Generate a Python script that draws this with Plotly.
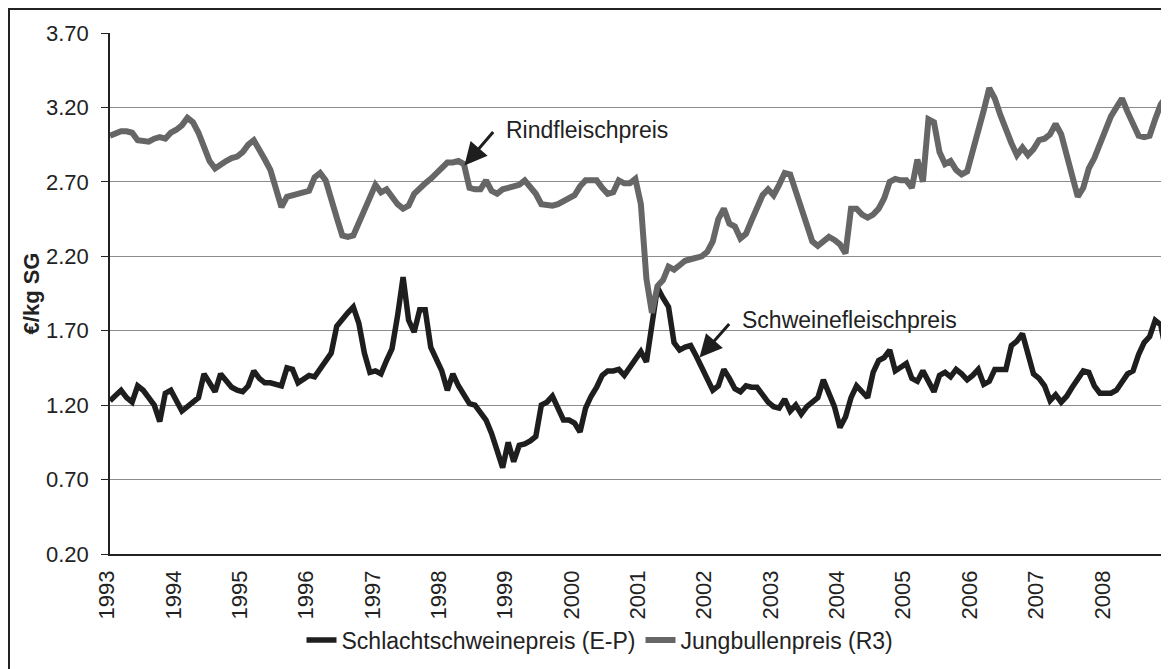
import plotly.graph_objects as go

years = list(range(1993, 2009))
year_labels = [str(y) for y in years]

# Schlachtschweinepreis (E-P), monthly, €/kg SG
pig_1993 = [1.23, 1.27, 1.30, 1.25, 1.22, 1.33, 1.30, 1.25, 1.20, 1.09, 1.28, 1.30]
pig_1994 = [1.22, 1.16, 1.19, 1.22, 1.25, 1.41, 1.35, 1.29, 1.41, 1.36, 1.32, 1.30]
pig_1995 = [1.29, 1.33, 1.43, 1.38, 1.35, 1.35, 1.34, 1.33, 1.45, 1.44, 1.35, 1.37]
pig_1996 = [1.40, 1.39, 1.44, 1.49, 1.55, 1.73, 1.78, 1.82, 1.86, 1.75, 1.55, 1.42]
pig_1997 = [1.43, 1.41, 1.50, 1.58, 1.80, 2.06, 1.77, 1.69, 1.84, 1.84, 1.59, 1.50]
pig_1998 = [1.43, 1.30, 1.41, 1.33, 1.27, 1.21, 1.20, 1.15, 1.10, 1.01, 0.88, 0.78]
pig_1999 = [0.95, 0.82, 0.93, 0.94, 0.96, 0.99, 1.20, 1.22, 1.26, 1.18, 1.10, 1.10]
pig_2000 = [1.08, 1.02, 1.18, 1.26, 1.32, 1.40, 1.43, 1.43, 1.44, 1.40, 1.45, 1.50]
pig_2001 = [1.56, 1.49, 1.75, 1.99, 1.92, 1.86, 1.62, 1.57, 1.59, 1.60, 1.53, 1.45]
pig_2002 = [1.37, 1.30, 1.33, 1.44, 1.38, 1.31, 1.29, 1.33, 1.32, 1.32, 1.27, 1.22]
pig_2003 = [1.19, 1.18, 1.24, 1.16, 1.20, 1.14, 1.19, 1.22, 1.25, 1.37, 1.28, 1.19]
pig_2004 = [1.05, 1.12, 1.25, 1.33, 1.29, 1.25, 1.42, 1.50, 1.52, 1.57, 1.43, 1.45]
pig_2005 = [1.48, 1.38, 1.36, 1.43, 1.36, 1.29, 1.40, 1.42, 1.39, 1.44, 1.41, 1.37]
pig_2006 = [1.40, 1.44, 1.34, 1.36, 1.44, 1.44, 1.44, 1.60, 1.63, 1.68, 1.54, 1.41]
pig_2007 = [1.38, 1.33, 1.23, 1.27, 1.22, 1.26, 1.32, 1.38, 1.43, 1.42, 1.33, 1.28]
pig_2008 = [1.28, 1.28, 1.30, 1.35, 1.41, 1.43, 1.54, 1.62, 1.66, 1.77, 1.74, 1.55]
pig_2009 = [1.35]

# Jungbullenpreis (R3), monthly, €/kg SG
cattle_1993 = [3.01, 3.03, 3.04, 3.04, 3.03, 2.98, 2.98, 2.97, 2.99, 3.00, 2.99, 3.03]
cattle_1994 = [3.05, 3.08, 3.13, 3.10, 3.03, 2.93, 2.84, 2.79, 2.82, 2.84, 2.86, 2.87]
cattle_1995 = [2.90, 2.95, 2.98, 2.92, 2.85, 2.78, 2.65, 2.53, 2.60, 2.61, 2.62, 2.63]
cattle_1996 = [2.64, 2.73, 2.76, 2.71, 2.57, 2.46, 2.34, 2.33, 2.34, 2.42, 2.52, 2.60]
cattle_1997 = [2.68, 2.63, 2.65, 2.60, 2.55, 2.52, 2.54, 2.62, 2.66, 2.69, 2.72, 2.76]
cattle_1998 = [2.79, 2.83, 2.83, 2.84, 2.82, 2.66, 2.65, 2.65, 2.71, 2.64, 2.62, 2.65]
cattle_1999 = [2.66, 2.67, 2.68, 2.71, 2.67, 2.62, 2.55, 2.54, 2.54, 2.55, 2.57, 2.59]
cattle_2000 = [2.61, 2.67, 2.71, 2.71, 2.71, 2.66, 2.62, 2.63, 2.71, 2.69, 2.69, 2.72]
cattle_2001 = [2.55, 2.05, 1.82, 2.00, 2.04, 2.13, 2.11, 2.14, 2.17, 2.18, 2.19, 2.20]
cattle_2002 = [2.23, 2.30, 2.45, 2.52, 2.42, 2.40, 2.32, 2.35, 2.44, 2.52, 2.61, 2.65]
cattle_2003 = [2.61, 2.68, 2.76, 2.75, 2.64, 2.51, 2.40, 2.30, 2.27, 2.30, 2.33, 2.31]
cattle_2004 = [2.28, 2.22, 2.52, 2.52, 2.48, 2.46, 2.48, 2.52, 2.59, 2.70, 2.72, 2.71]
cattle_2005 = [2.71, 2.66, 2.85, 2.70, 3.12, 3.10, 2.90, 2.82, 2.84, 2.78, 2.75, 2.77]
cattle_2006 = [2.90, 3.02, 3.18, 3.33, 3.26, 3.15, 3.05, 2.96, 2.88, 2.93, 2.88, 2.92]
cattle_2007 = [2.98, 2.99, 3.02, 3.09, 3.02, 2.88, 2.72, 2.60, 2.66, 2.79, 2.86, 2.95]
cattle_2008 = [3.06, 3.14, 3.20, 3.26, 3.17, 3.10, 3.01, 3.00, 3.01, 3.12, 3.22, 3.27]
cattle_2009 = [3.25]

y_ticks = [0.20, 0.70, 1.20, 1.70, 2.20, 2.70, 3.20, 3.70]

pig = (pig_1993 + pig_1994 + pig_1995 + pig_1996 + pig_1997 + pig_1998 + pig_1999 +
       pig_2000 + pig_2001 + pig_2002 + pig_2003 + pig_2004 + pig_2005 + pig_2006 +
       pig_2007 + pig_2008 + pig_2009)
cattle = (cattle_1993 + cattle_1994 + cattle_1995 + cattle_1996 + cattle_1997 +
          cattle_1998 + cattle_1999 + cattle_2000 + cattle_2001 + cattle_2002 +
          cattle_2003 + cattle_2004 + cattle_2005 + cattle_2006 + cattle_2007 +
          cattle_2008 + cattle_2009)
months = list(range(len(pig)))

FONT = "Liberation Sans, Arial, sans-serif"

W, H = 1161, 661
ML, MT, MB = 102, 25, 115
PW, PH = W - ML, H - MT - MB

fig = go.Figure()
fig.add_trace(go.Scatter(x=months, y=pig, mode="lines", name="Schlachtschweinepreis (E-P)",
                         line=dict(color="#1e1e1e", width=5.5)))
fig.add_trace(go.Scatter(x=months, y=cattle, mode="lines", name="Jungbullenpreis (R3)",
                         line=dict(color="#666666", width=6)))

fig.update_layout(
    width=W, height=H,
    margin=dict(l=ML, r=0, t=MT, b=MB, autoexpand=False),
    paper_bgcolor="white", plot_bgcolor="white",
    font=dict(family=FONT, color="#222222", size=22),
    showlegend=True,
    legend=dict(orientation="h", x=(600 - 110) / PW, xanchor="center",
                y=-(640 - 554) / PH, yanchor="middle",
                font=dict(size=23, family=FONT, color="#222222"),
                bgcolor="rgba(0,0,0,0)", tracegroupgap=0),
    xaxis=dict(range=[0, 191.5], tickmode="array",
               tickvals=[12 * i for i in range(len(years))], ticktext=year_labels,
               tickangle=-90, tickfont=dict(size=22), showgrid=False, zeroline=False,
               showline=True, linecolor="#222222", linewidth=1.5, ticks="",
               ticklabelstandoff=6, ticklabelshift=-3),
    yaxis=dict(range=[0.2, 3.7], tickmode="array", tickvals=y_ticks,
               ticktext=[f"{v:.2f}" for v in y_ticks], tickfont=dict(size=22),
               showgrid=True, gridcolor="#8c8c8c", gridwidth=1, zeroline=False,
               showline=True, linecolor="#222222", linewidth=1.5,
               ticks="outside", ticklen=7, tickcolor="#222222", ticklabelstandoff=8,
               title=dict(text="<b>€/kg SG</b>", font=dict(size=22), standoff=0)),
)

# Annotations with arrows
fig.add_annotation(x=64.1, y=2.81, xref="x", yref="y", text="", showarrow=True,
                   ax=30, ay=-35, arrowhead=2, arrowsize=1.5, arrowwidth=3,
                   arrowcolor="#1e1e1e", standoff=0)
fig.add_annotation(x=71.3, y=3.05, xref="x", yref="y", text="Rindfleischpreis",
                   showarrow=False, xanchor="left", yanchor="middle",
                   font=dict(size=23, family=FONT, color="#222222"))
fig.add_annotation(x=106.6, y=1.52, xref="x", yref="y", text="", showarrow=True,
                   ax=31, ay=-35, arrowhead=2, arrowsize=1.5, arrowwidth=3,
                   arrowcolor="#1e1e1e", standoff=0)
fig.add_annotation(x=114.0, y=1.775, xref="x", yref="y", text="Schweinefleischpreis",
                   showarrow=False, xanchor="left", yanchor="middle",
                   font=dict(size=23, family=FONT, color="#222222"))

# Outer chart frame
fig.add_shape(type="rect", xref="paper", yref="paper",
              x0=(1 - ML) / PW, x1=1.05, y0=-0.3, y1=1 + (MT - 1) / PH,
              line=dict(color="#222222", width=2), fillcolor="rgba(0,0,0,0)")

fig.write_html("out.html")
